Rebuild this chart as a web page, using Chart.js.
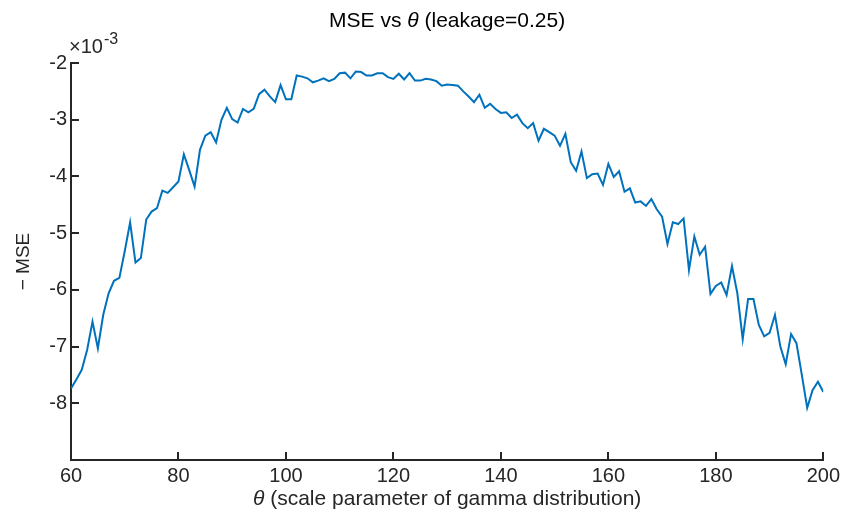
<!DOCTYPE html>
<html>
<head>
<meta charset="utf-8">
<script src="https://cdn.jsdelivr.net/npm/chart.js@4.4.1/dist/chart.umd.min.js"></script>
<style>
  html, body { margin: 0; padding: 0; background: #fff; }
</style>
</head>
<body>
<canvas id="c" width="844" height="517"></canvas>
<script>
// theta = 60..200, step 1
const thetaValues = []
for (let t = 60; t <= 200; t++) thetaValues.push(t)

// -MSE in units of 1e-3
const negMse = [
  -7.74, -7.58, -7.41, -7.06, -6.56, -7.03, -6.44, -6.06, -5.84, -5.79,
  -5.32, -4.81, -5.52, -5.44, -4.76, -4.62, -4.56, -4.25, -4.29, -4.19,
  -4.09, -3.61, -3.89, -4.18, -3.53, -3.28, -3.22, -3.40, -3.00, -2.79,
  -2.99, -3.05, -2.81, -2.87, -2.81, -2.55, -2.47, -2.59, -2.69, -2.39,
  -2.64, -2.64, -2.22, -2.24, -2.27, -2.34, -2.31, -2.27, -2.32, -2.28,
  -2.18, -2.17, -2.27, -2.15, -2.16, -2.22, -2.22, -2.18, -2.18, -2.25,
  -2.28, -2.19, -2.29, -2.18, -2.31, -2.31, -2.28, -2.29, -2.32, -2.40,
  -2.38, -2.39, -2.40, -2.50, -2.59, -2.69, -2.56, -2.79, -2.72, -2.81,
  -2.88, -2.87, -2.97, -2.91, -3.06, -3.15, -3.06, -3.37, -3.16, -3.22,
  -3.28, -3.46, -3.25, -3.75, -3.90, -3.56, -4.03, -3.96, -3.95, -4.15,
  -3.78, -4.01, -3.91, -4.27, -4.21, -4.46, -4.44, -4.52, -4.40, -4.58,
  -4.71, -5.19, -4.81, -4.84, -4.74, -5.65, -5.06, -5.38, -5.24, -6.07,
  -5.93, -5.87, -6.09, -5.58, -6.06, -6.87, -6.16, -6.16, -6.62, -6.82,
  -6.76, -6.44, -7.00, -7.31, -6.78, -6.94, -7.50, -8.08, -7.77, -7.62,
  -7.80
]

const xTicks = [60, 80, 100, 120, 140, 160, 180, 200]
const yTicks = [-9, -8, -7, -6, -5, -4, -3, -2]

const axisColor = '#262626'
const fontFamily = '"Liberation Sans", Arial, Helvetica, sans-serif'

// MATLAB style: ticks pointing into the axes, plus the text with italic theta
const matlabDecor = {
    id: 'matlabDecor',
    afterDraw(chart) {
        const ctx = chart.ctx
        const { left, right, top, bottom } = chart.chartArea
        const xs = chart.scales.x, ys = chart.scales.y
        ctx.save()
        ctx.strokeStyle = axisColor
        ctx.lineWidth = 2
        ctx.beginPath()
        xTicks.forEach(v => {
            const px = Math.round(xs.getPixelForValue(v))
            ctx.moveTo(px, bottom)
            ctx.lineTo(px, bottom - 8)
        })
        yTicks.forEach(v => {
            const py = Math.round(ys.getPixelForValue(v))
            ctx.moveTo(left, py)
            ctx.lineTo(left + 8, py)
        })
        ctx.stroke()

        // title
        ctx.fillStyle = '#000'
        ctx.textBaseline = 'alphabetic'
        const cx = (left + right) / 2
        drawMixed(ctx, [['MSE vs ', 'normal'], ['\u03b8', 'italic'], [' (leakage=0.25)', 'normal']], cx, 27, 21)

        // x title
        ctx.fillStyle = axisColor
        drawMixed(ctx, [['\u03b8', 'italic'], [' (scale parameter of gamma distribution)', 'normal']], cx, 505, 21)

        // y title
        ctx.save()
        ctx.translate(29, (top + bottom) / 2)
        ctx.rotate(-Math.PI / 2)
        ctx.font = '19px ' + fontFamily
        ctx.textAlign = 'center'
        ctx.fillText('\u2212 MSE', 0, 0)
        ctx.restore()

        // exponent label
        ctx.textAlign = 'left'
        ctx.font = '20px ' + fontFamily
        ctx.fillText('\u00d710', left - 2, 53)
        const w = ctx.measureText('\u00d710').width
        ctx.font = '16px ' + fontFamily
        ctx.fillText('-3', left - 1 + w, 44)
        ctx.restore()
    }
}

function drawMixed(ctx, parts, cx, y, size) {
    let total = 0
    parts.forEach(p => {
        ctx.font = p[1] + ' ' + size + 'px ' + fontFamily
        total += ctx.measureText(p[0]).width
    })
    let x = cx - total / 2
    ctx.textAlign = 'left'
    parts.forEach(p => {
        ctx.font = p[1] + ' ' + size + 'px ' + fontFamily
        ctx.fillText(p[0], x, y)
        x += ctx.measureText(p[0]).width
    })
}

const ctx = document.getElementById('c').getContext('2d')
new Chart(ctx, {
    type: 'line',
    data: {
        labels: thetaValues,
        datasets: [{
            data: thetaValues.map((t, i) => ({ x: t, y: negMse[i] })),
            borderColor: '#0072BD',
            borderWidth: 2,
            pointRadius: 0,
            fill: false,
            tension: 0
        }]
    },
    options: {
        responsive: false,
        animation: false,
        devicePixelRatio: 1,
        layout: { padding: { left: 0, right: 20, top: 63, bottom: 0 } },
        plugins: {
            legend: { display: false },
            tooltip: { enabled: false },
            title: { display: false }
        },
        scales: {
            x: {
                type: 'linear',
                min: 60,
                max: 200,
                afterBuildTicks: s => { s.ticks = xTicks.map(v => ({ value: v })) },
                afterFit: s => { s.height = 57 },
                grid: { display: false, drawTicks: false },
                border: { display: true, color: axisColor, width: 2 },
                ticks: {
                    color: axisColor,
                    padding: 4,
                    maxRotation: 0,
                    autoSkip: false,
                    font: { family: fontFamily, size: 20 }
                }
            },
            y: {
                min: -9,
                max: -2,
                afterBuildTicks: s => { s.ticks = yTicks.map(v => ({ value: v })) },
                afterFit: s => { s.width = 71 },
                grid: { display: false, drawTicks: false },
                border: { display: true, color: axisColor, width: 2 },
                ticks: {
                    color: axisColor,
                    padding: 4,
                    autoSkip: false,
                    font: { family: fontFamily, size: 20 },
                    callback: v => (v === -9 ? '' : String(v))
                }
            }
        }
    },
    plugins: [matlabDecor]
})
</script>
</body>
</html>
